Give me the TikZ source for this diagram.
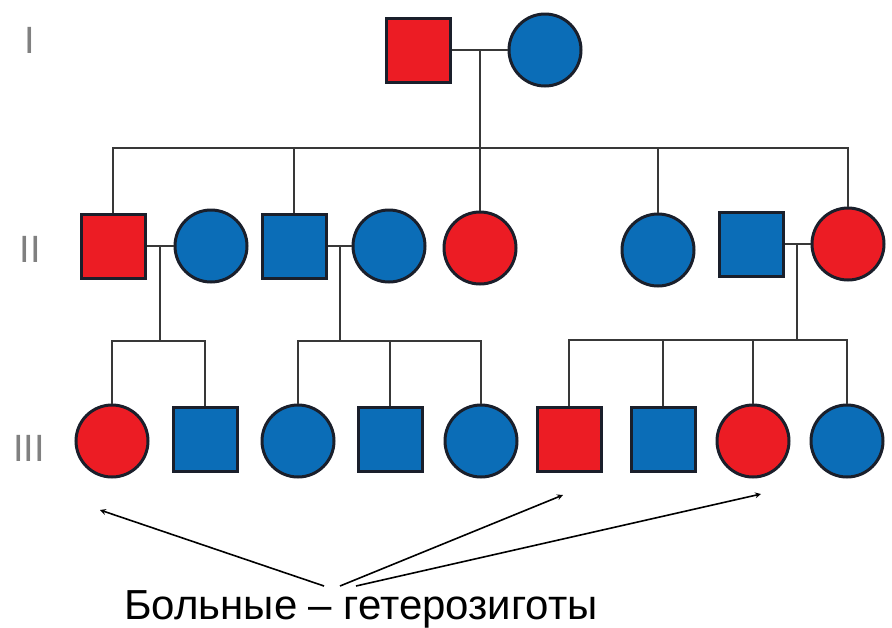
\documentclass[tikz,border=0pt]{standalone}
\usepackage{fontspec}
\setmainfont{Liberation Sans}
\usepackage{tikz}
\definecolor{sick}{HTML}{EC1C24}
\definecolor{well}{HTML}{0B6DB7}
\definecolor{rim}{HTML}{1A1F2B}
\definecolor{wire}{HTML}{383838}
\tikzset{
  male/.style={rectangle, minimum size=64pt, draw=rim, line width=3pt},
  female/.style={circle, minimum size=72pt, draw=rim, line width=3pt},
  gen/.style={text=gray, font=\fontsize{38}{40}\selectfont},
}
\begin{document}
\begin{tikzpicture}[x=1pt, y=-1pt, inner sep=0pt, >=stealth, line width=2.4pt, draw=wire]
\useasboundingbox (0,0) rectangle (892,627);
% generation labels
\node (gI) at (30,40) [gen] {I};
\node (gII) at (30,249) [gen] {II};
\node (gIII) at (29,448) [gen] {III};
% generation I
\node (i1) at (418,50) [male,fill=sick] {};
\node (i2) at (545,50) [female,fill=well] {};
\coordinate (d1) at (480,50);
\coordinate (s1) at (480,148);
% generation II
\node (ii1) at (113,246) [male,fill=sick] {};
\node (ii2) at (211,246) [female,fill=well] {};
\node (ii3) at (294,246) [male,fill=well] {};
\node (ii4) at (389,246) [female,fill=well] {};
\node (ii5) at (480,248) [female,fill=sick] {};
\node (ii6) at (658,250) [female,fill=well] {};
\node (ii7) at (751,244) [male,fill=well] {};
\node (ii8) at (848,244) [female,fill=sick] {};
\coordinate (d2) at (160,246);
\coordinate (s2) at (160,341);
\coordinate (d3) at (340,246);
\coordinate (s3) at (340,341);
\coordinate (d4) at (797,244);
\coordinate (s4) at (797,340);
% generation III
\node (iii1) at (112,441) [female,fill=sick] {};
\node (iii2) at (205,439) [male,fill=well] {};
\node (iii3) at (298,441) [female,fill=well] {};
\node (iii4) at (390,439) [male,fill=well] {};
\node (iii5) at (481,441) [female,fill=well] {};
\node (iii6) at (569,439) [male,fill=sick] {};
\node (iii7) at (663,439) [male,fill=well] {};
\node (iii8) at (753,441) [female,fill=sick] {};
\node (iii9) at (847,441) [female,fill=well] {};
% marriages and descent
\draw (i1) -- (i2);
\draw (d1) -- (s1);
\draw (ii1) |- (s1) -| (ii8);
\draw (ii3) -- (ii3 |- s1);
\draw (ii5) -- (ii5 |- s1);
\draw (ii6) -- (ii6 |- s1);
\draw (ii1) -- (ii2);
\draw (ii3) -- (ii4);
\draw (ii7) -- (ii8);
\draw (d2) -- (s2);
\draw (d3) -- (s3);
\draw (d4) -- (s4);
\draw (iii1) |- (s2) -| (iii2);
\draw (iii3) |- (s3) -| (iii5);
\draw (iii4) -- (iii4 |- s3);
\draw (iii6) |- (s4) -| (iii9);
\draw (iii7) -- (iii7 |- s4);
\draw (iii8) -- (iii8 |- s4);
% caption and arrows
\node (cap) at (361,619) [anchor=base, font=\fontsize{42}{48}\selectfont] {Больные – гетерозиготы};
\coordinate (t1) at (324,586);
\coordinate (t2) at (340,586);
\coordinate (t3) at (356,586);
\coordinate (h1) at (100,510);
\coordinate (h2) at (563,495);
\coordinate (h3) at (761,494);
\draw[->, black, line width=1.6pt] (t1) -- (h1);
\draw[->, black, line width=1.6pt] (t2) -- (h2);
\draw[->, black, line width=1.6pt] (t3) -- (h3);
\end{tikzpicture}
\end{document}
